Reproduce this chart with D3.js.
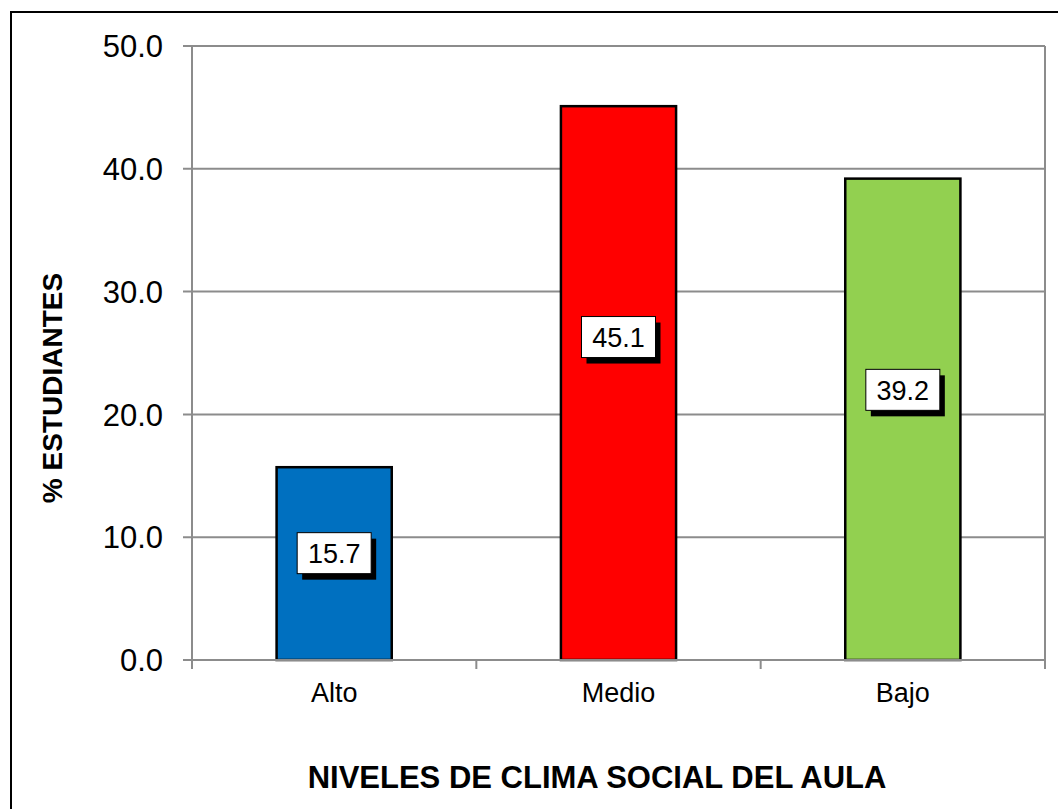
<!DOCTYPE html>
<html>
<head>
<meta charset="utf-8">
<title>Niveles de clima social del aula</title>
<style>
  body { margin: 0; background: #fff; }
  text { font-family: Arial, "Liberation Sans", sans-serif; fill: #000; }
</style>
</head>
<body>
<script src="https://d3js.org/d3.v7.min.js"></script>
<script>
// data
var categories = ["Alto", "Medio", "Bajo"];
var values = [15.7, 45.1, 39.2];
var colors = ["#0070C0", "#FF0000", "#92D050"];
var labelAt = [8.7, 26.3, 22.0];   // where the value boxes sit, in axis units
var yTicks = [0, 10, 20, 30, 40, 50];

var W = 1058, H = 809;
var plot = {left: 192, top: 46, right: 1045, bottom: 660};

var svg = d3.select("body").append("svg")
    .attr("width", W)
    .attr("height", H);

// outer chart border (runs off the right and bottom)
svg.append("rect")
    .attr("x", 11).attr("y", 12)
    .attr("width", 1070).attr("height", 820)
    .attr("fill", "#fff")
    .attr("stroke", "#000")
    .attr("stroke-width", 2);

var x = d3.scaleBand()
    .domain(categories)
    .range([plot.left, plot.right])
    .paddingInner(0.595)
    .paddingOuter(0.2975);

var x0 = d3.scalePoint()
    .domain(d3.range(categories.length + 1))
    .range([plot.left, plot.right]);

var y = d3.scaleLinear()
    .domain([0, 50])
    .range([plot.bottom, plot.top]);

var grey = "#8c8c8c";

// gridlines + y ticks
svg.selectAll(".grid")
    .data(yTicks)
    .enter().append("line")
    .attr("x1", plot.left - 9)
    .attr("x2", plot.right)
    .attr("y1", function(d){ return y(d); })
    .attr("y2", function(d){ return y(d); })
    .attr("stroke", grey)
    .attr("stroke-width", 2);

svg.selectAll(".ylab")
    .data(yTicks)
    .enter().append("text")
    .attr("x", plot.left - 29)
    .attr("y", function(d){ return y(d); })
    .attr("dy", "0.36em")
    .attr("text-anchor", "end")
    .style("font-size", "31px")
    .text(function(d){ return d3.format(".1f")(d); });

// left and right plot edges
svg.append("line")
    .attr("x1", plot.left).attr("x2", plot.left)
    .attr("y1", plot.top).attr("y2", plot.bottom + 9)
    .attr("stroke", grey).attr("stroke-width", 2);
svg.append("line")
    .attr("x1", plot.right).attr("x2", plot.right)
    .attr("y1", plot.top).attr("y2", plot.bottom + 9)
    .attr("stroke", grey).attr("stroke-width", 2);

// x tick marks between categories
svg.selectAll(".xtick")
    .data(d3.range(1, categories.length))
    .enter().append("line")
    .attr("x1", function(d){ return x0(d); })
    .attr("x2", function(d){ return x0(d); })
    .attr("y1", plot.bottom)
    .attr("y2", plot.bottom + 9)
    .attr("stroke", grey).attr("stroke-width", 2);

// bars
svg.selectAll(".bar")
    .data(values)
    .enter().append("rect")
    .attr("x", function(d, i){ return x(categories[i]); })
    .attr("y", function(d){ return y(d); })
    .attr("width", x.bandwidth())
    .attr("height", function(d){ return y(0) - y(d); })
    .attr("fill", function(d, i){ return colors[i]; })
    .attr("stroke", "#000")
    .attr("stroke-width", 2.5);

// redraw the baseline over the bar bottoms
svg.append("line")
    .attr("x1", plot.left).attr("x2", plot.right)
    .attr("y1", y(0)).attr("y2", y(0))
    .attr("stroke", grey).attr("stroke-width", 2);

// value boxes with drop shadow
var bw = 74, bh = 41;
var labels = svg.selectAll(".lab")
    .data(values)
    .enter().append("g")
    .attr("transform", function(d, i){
        var cx = x(categories[i]) + x.bandwidth() / 2;
        return "translate(" + (cx - bw / 2) + "," + (y(labelAt[i]) - bh / 2) + ")";
    });

labels.append("rect")
    .attr("x", 5).attr("y", 6)
    .attr("width", bw).attr("height", bh)
    .attr("fill", "#000");

labels.append("rect")
    .attr("width", bw).attr("height", bh)
    .attr("fill", "#fff")
    .attr("stroke", "#000")
    .attr("stroke-width", 1);

labels.append("text")
    .attr("x", bw / 2)
    .attr("y", bh / 2)
    .attr("dy", "0.36em")
    .attr("text-anchor", "middle")
    .style("font-size", "27px")
    .text(function(d){ return d3.format(".1f")(d); });

// category labels
svg.selectAll(".xlab")
    .data(categories)
    .enter().append("text")
    .attr("x", function(d){ return x(d) + x.bandwidth() / 2; })
    .attr("y", 702)
    .attr("text-anchor", "middle")
    .style("font-size", "27px")
    .text(function(d){ return d; });

// axis titles
svg.append("text")
    .attr("x", 597)
    .attr("y", 788)
    .attr("text-anchor", "middle")
    .style("font-size", "31px")
    .style("font-weight", "bold")
    .text("NIVELES DE CLIMA SOCIAL DEL AULA");

svg.append("text")
    .attr("transform", "translate(62,388) rotate(-90)")
    .attr("text-anchor", "middle")
    .style("font-size", "28px")
    .style("font-weight", "bold")
    .text("% ESTUDIANTES");
</script>
</body>
</html>
